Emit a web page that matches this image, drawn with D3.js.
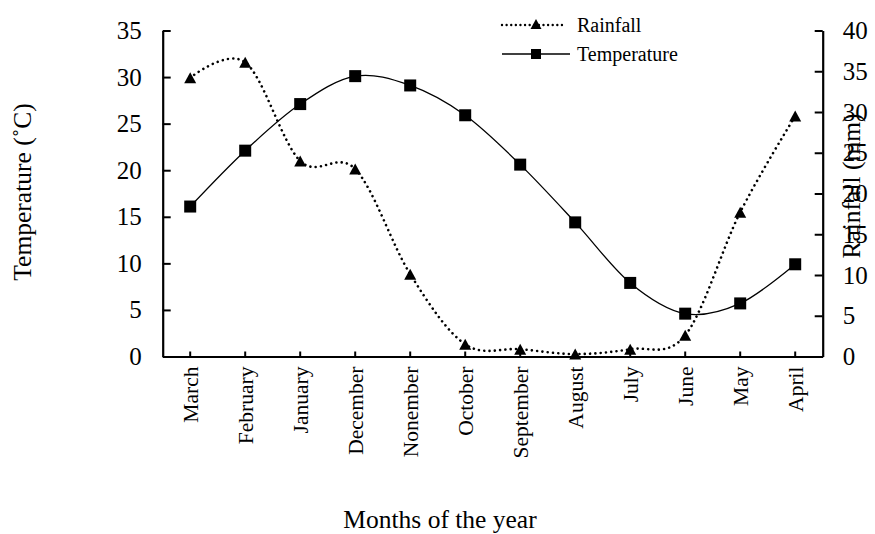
<!DOCTYPE html>
<html>
<head>
<meta charset="utf-8">
<script src="https://cdn.jsdelivr.net/npm/d3@7"></script>
<style>
  html, body { margin: 0; padding: 0; background: #fff; }
  svg { display: block; font-family: "Liberation Serif", "Times New Roman", serif; }
</style>
</head>
<body>
<svg id="chart" width="875" height="534"></svg>
<script>
const months = ["March", "February", "January", "December", "Nonember", "October",
                "September", "August", "July", "June", "May", "April"];
const temperature = [16.1, 22.1, 27.1, 30.1, 29.1, 25.9, 20.6, 14.4, 7.9, 4.6, 5.7, 9.9];
const rainfall = [34.2, 36.1, 24.0, 23.0, 10.1, 1.5, 0.9, 0.3, 0.9, 2.6, 17.7, 29.5];
const tempTicks = [0, 5, 10, 15, 20, 25, 30, 35];
const rainTicks = [0, 5, 10, 15, 20, 25, 30, 35, 40];

const W = 875, H = 534;
const m = { left: 162.7, right: 52.3, top: 30.5, bottom: 177.5 };
const iw = W - m.left - m.right, ih = H - m.top - m.bottom;

const svg = d3.select("#chart");
const g = svg.append("g").attr("transform", `translate(${m.left},${m.top})`);

const x = d3.scaleBand().domain(months).range([0, iw]).padding(0);
const cx = d => x(d) + x.bandwidth() / 2;
const yT = d3.scaleLinear().domain([0, 35]).range([ih, 0]);
const yR = d3.scaleLinear().domain([0, 40]).range([ih, 0]);

// Axes
const axL = g.append("g")
  .call(d3.axisLeft(yT).tickValues(tempTicks).tickSizeInner(-8).tickSizeOuter(0).tickPadding(21));
const axR = g.append("g").attr("transform", `translate(${iw},0)`)
  .call(d3.axisRight(yR).tickValues(rainTicks).tickSizeInner(-8).tickSizeOuter(0).tickPadding(20));
const axB = g.append("g").attr("transform", `translate(0,${ih})`)
  .call(d3.axisBottom(x).tickSizeInner(-5).tickSizeOuter(0).tickFormat(""));

[axL, axR, axB].forEach(a => {
  a.selectAll("path.domain").attr("stroke", "#000").attr("stroke-width", 2.2);
  a.selectAll(".tick line").attr("stroke", "#000").attr("stroke-width", 2);
  a.selectAll(".tick text").attr("font-family", "Liberation Serif").attr("font-size", 25).attr("fill", "#000");
});

// Month labels (rotated)
g.append("g").selectAll("text").data(months).join("text")
  .attr("transform", d => `translate(${cx(d)},${ih + 10}) rotate(-90)`)
  .attr("text-anchor", "end")
  .attr("dy", "0.35em")
  .attr("font-size", 21.5)
  .text(d => d);

// Lines
const lineT = d3.line().x((d, i) => cx(months[i])).y(d => yT(d)).curve(d3.curveCatmullRom.alpha(0));
const lineR = d3.line().x((d, i) => cx(months[i])).y(d => yR(d)).curve(d3.curveCatmullRom.alpha(0));

g.append("path").datum(rainfall).attr("d", lineR)
  .attr("fill", "none").attr("stroke", "#000").attr("stroke-width", 2.6)
  .attr("stroke-linecap", "round").attr("stroke-dasharray", "0.01 5.3");
g.append("path").datum(temperature).attr("d", lineT)
  .attr("fill", "none").attr("stroke", "#000").attr("stroke-width", 1.3);

const triPath = (w, h) => `M0,${-h / 2}L${w / 2},${h / 2}L${-w / 2},${h / 2}Z`;

g.append("g").selectAll("path").data(rainfall).join("path")
  .attr("transform", (d, i) => `translate(${cx(months[i])},${yR(d)})`)
  .attr("d", triPath(12, 11)).attr("fill", "#000");

g.append("g").selectAll("rect").data(temperature).join("rect")
  .attr("x", (d, i) => cx(months[i]) - 6)
  .attr("y", d => yT(d) - 6)
  .attr("width", 12).attr("height", 12).attr("fill", "#000");

// Axis titles
svg.append("text").attr("x", 440).attr("y", 528).attr("text-anchor", "middle")
  .attr("font-size", 25.5).text("Months of the year");
svg.append("text").attr("transform", "translate(31,192) rotate(-90)").attr("text-anchor", "middle")
  .attr("font-size", 25.5).text("Temperature (\u02DAC)");
svg.append("text").attr("transform", "translate(860,186) rotate(-90)").attr("text-anchor", "middle")
  .attr("font-size", 25.5).text("Rainfall (mm)");

// Legend
const leg = svg.append("g");
leg.append("line").attr("x1", 502).attr("x2", 565).attr("y1", 25).attr("y2", 25)
  .attr("stroke", "#000").attr("stroke-width", 2.4).attr("stroke-linecap", "round")
  .attr("stroke-dasharray", "0.01 4.6");
leg.append("path").attr("transform", "translate(536,24)").attr("d", triPath(11, 10)).attr("fill", "#000");
leg.append("text").attr("x", 577).attr("y", 25).attr("dy", "0.35em").attr("font-size", 20).text("Rainfall");

leg.append("line").attr("x1", 502).attr("x2", 570).attr("y1", 54).attr("y2", 54)
  .attr("stroke", "#000").attr("stroke-width", 1.3);
leg.append("rect").attr("x", 531).attr("y", 49).attr("width", 10).attr("height", 10).attr("fill", "#000");
leg.append("text").attr("x", 577).attr("y", 54).attr("dy", "0.35em").attr("font-size", 20).text("Temperature");
</script>
</body>
</html>
